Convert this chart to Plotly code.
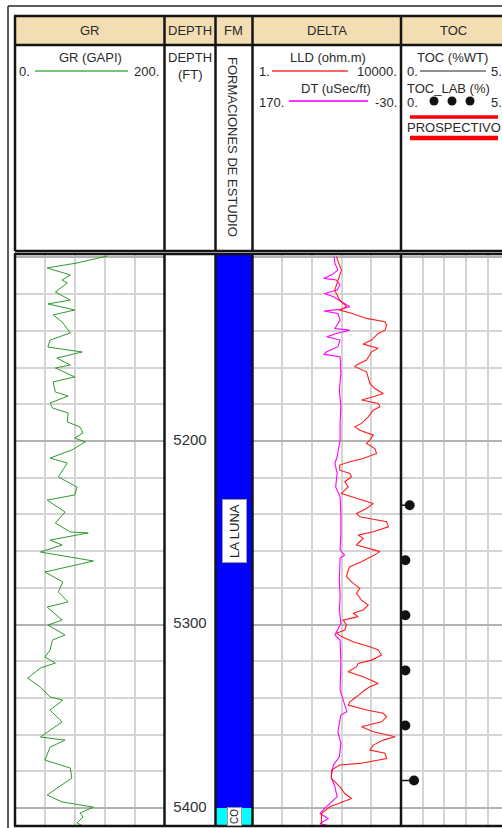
import plotly.graph_objects as go

W, H = 502, 828
FONT = "Liberation Sans, Arial, sans-serif"
INK = "#2a2a2a"

# ---- log curves (depth in ft) ----
gr_depth = [5099.2, 5101.4, 5103.0, 5105.7, 5108.4, 5109.5, 5112.3, 5113.9, 5118.8, 5123.2,
            5125.3, 5128.6, 5131.3, 5135.1, 5141.1, 5145.0, 5148.8, 5151.5, 5154.8, 5158.6,
            5160.2, 5165.1, 5167.8, 5173.3, 5175.5, 5179.3, 5182.0, 5184.7, 5189.6, 5192.4,
            5195.6, 5198.4, 5200.5, 5204.9, 5209.3, 5212.0, 5219.6, 5225.1, 5229.4, 5232.2,
            5238.7, 5244.7, 5249.6, 5250.1, 5254.0, 5256.7, 5260.5, 5265.4, 5271.4, 5276.8,
            5282.3, 5287.7, 5290.5, 5297.6, 5300.3, 5305.7, 5308.5, 5313.9, 5317.7, 5321.0,
            5323.7, 5329.2, 5334.1, 5339.5, 5341.2, 5346.6, 5353.1, 5361.3, 5363.0, 5366.8,
            5373.9, 5378.2, 5383.7, 5392.9, 5396.7, 5399.5, 5402.7, 5404.9, 5408.2, 5409.8]
gr_api = [123.5, 98, 83, 43, 67, 74, 63, 70, 54, 74,
          44, 80, 51, 63, 74, 47, 44, 90, 56, 74,
          54, 80, 51, 54, 71, 47, 50, 71, 70, 87,
          91, 80, 94, 76, 47, 70, 58, 83, 80, 43,
          67, 54, 74, 98, 47, 63, 34, 105, 40, 64,
          58, 71, 43, 63, 44, 67, 50, 47, 40, 54,
          34, 17, 34, 47, 64, 47, 63, 34, 67, 47,
          40, 74, 76, 43, 63, 105, 87, 91, 83, 91]

lld_depth = [5099.6, 5106.9, 5112.3, 5117.8, 5123.2, 5126.8, 5128.7, 5130.1, 5133.2, 5135.0,
             5136.8, 5139.6, 5141.4, 5145.0, 5147.2, 5148.6, 5149.5, 5151.4, 5155.9, 5158.6,
             5159.5, 5162.3, 5165.0, 5168.6, 5171.4, 5174.1, 5175.9, 5177.7, 5179.5, 5181.4,
             5183.2, 5186.8, 5190.4, 5192.3, 5194.1, 5196.8, 5199.5, 5201.3, 5204.1, 5206.8,
             5209.5, 5211.3, 5213.1, 5215.9, 5217.7, 5219.5, 5222.2, 5225.0, 5228.6, 5231.3,
             5234.1, 5236.8, 5239.5, 5241.3, 5244.0, 5246.8, 5249.5, 5251.3, 5253.0, 5256.7,
             5258.5, 5260.3, 5263.0, 5265.8, 5268.5, 5270.3, 5273.9, 5277.6, 5280.3, 5283.0,
             5286.7, 5289.4, 5292.1, 5293.9, 5295.7, 5297.6, 5300.3, 5303.0, 5304.8, 5306.6,
             5309.4, 5312.1, 5313.9, 5316.6, 5319.4, 5321.2, 5323.0, 5325.7, 5328.5, 5331.2,
             5332.1, 5333.9, 5335.7, 5339.4, 5342.1, 5343.9, 5346.6, 5348.4, 5350.3, 5353.0,
             5355.7, 5358.4, 5361.2, 5363.0, 5365.7, 5368.4, 5370.2, 5373.0, 5375.7, 5376.6,
             5379.3, 5383.9, 5388.4, 5392.1, 5394.8, 5396.6, 5399.3, 5403.0, 5406.6, 5409.8]
lld_ohmm = [182, 249, 202, 164, 224, 340, 224, 419, 1180, 3698,
            4102, 3698, 2438, 1611, 959, 1786, 2438, 1611, 1180, 634,
            571, 1180, 1309, 1452, 1982, 3334, 1786, 865, 2438, 2704,
            1786, 1309, 865, 571, 780, 1786, 1452, 1180, 1982, 2198,
            959, 419, 224, 224, 419, 465, 306, 378, 249, 634,
            1786, 1180, 634, 780, 4102, 4550, 1786, 703, 959, 634,
            1309, 2704, 1611, 865, 419, 378, 340, 515, 780, 634,
            865, 1309, 959, 515, 703, 276, 340, 306, 182, 249,
            515, 1452, 2438, 2999, 1611, 703, 634, 378, 959, 1786,
            2438, 1452, 1064, 634, 419, 378, 1180, 3334, 4102, 2999,
            865, 1786, 6887, 3334, 1786, 1452, 3698, 4102, 780, 224,
            134, 134, 224, 306, 465, 276, 121, 72, 72, 72]

dt_depth = [5099.6, 5103.2, 5106.9, 5109.6, 5111.4, 5112.3, 5115.0, 5117.8, 5119.6, 5121.4,
            5124.1, 5125.9, 5126.8, 5128.3, 5129.2, 5130.5, 5134.1, 5138.7, 5139.6, 5141.4,
            5143.2, 5145.0, 5148.6, 5151.4, 5152.8, 5154.1, 5163.2, 5172.3, 5181.4, 5190.4,
            5199.5, 5208.6, 5212.2, 5217.7, 5225.0, 5230.4, 5239.5, 5250.4, 5259.4, 5262.1,
            5263.9, 5275.8, 5284.8, 5292.1, 5299.4, 5305.7, 5308.5, 5321.2, 5335.7, 5347.5,
            5349.3, 5358.4, 5364.8, 5372.1, 5376.6, 5383.0, 5388.4, 5393.9, 5397.5, 5400.2,
            5403.0, 5405.7, 5408.4, 5409.8]
dt_usft = [60, 59, 55, 64, 74, 57, 52, 56, 73, 61,
           50, 43, 39, 52, 74, 55, 52, 59, 39, 57,
           70, 52, 55, 70, 74, 52, 51, 53, 51, 52,
           52, 56, 59, 56, 58, 52, 51, 51, 52, 46,
           52, 53, 52, 53, 51, 59, 52, 51, 52, 43,
           51, 55, 51, 53, 61, 64, 59, 56, 66, 73,
           79, 68, 79, 66]

# core samples
toc_depth = [5235, 5265, 5295, 5325, 5355, 5385]
toc_wt = [0.4, 0.2, 0.2, 0.2, 0.2, 0.6]
toc_lab = [0.4, 0.2, 0.2, 0.2, 0.2, 0.6]

# formation column
fm_names = ["LA LUNA", "COGOLLO"]
fm_top = [5090, 5400]
fm_base = [5400, 5440]
fm_colors = ["#0000ff", "#00ffff"]

depth_labels = [5200, 5300, 5400]
depth_top, depth_base = 5098.1, 5409.8

# ---- page geometry (pixels) ----
edges = [15, 164.5, 215.5, 252.5, 401, 509.5]   # track borders
head_top, tan_bottom, head_bottom = 16, 45, 251
data_top, data_bottom = 254, 826


def px(x):
    return x / W


def py(y):
    return 1 - y / H


def dom(i):
    return [px(edges[i]), min(1.0, px(edges[i + 1]))]


toc_max = 5 * (W - edges[4]) / (edges[5] - edges[4])

GRID = "#d4d4d4"
GRID_MAJOR = "#b2b2b2"

fig = go.Figure()

# GR
fig.add_trace(go.Scatter(x=gr_api, y=gr_depth, mode="lines",
                         line=dict(color="#2e9a2e", width=1), xaxis="x", yaxis="y"))

# depth numbers
fig.add_trace(go.Scatter(x=[0.5] * len(depth_labels), y=depth_labels, mode="text",
                         text=[str(d) for d in depth_labels],
                         textfont=dict(family=FONT, size=15, color="#333333"),
                         xaxis="x2", yaxis="y2", cliponaxis=False))

# formation bands
for top, base, col in zip(fm_top, fm_base, fm_colors):
    fig.add_trace(go.Scatter(x=[0, 1, 1, 0, 0], y=[top, top, base, base, top],
                             mode="lines", fill="toself", fillcolor=col,
                             line=dict(width=0, color=col), xaxis="x3", yaxis="y3"))

# resistivity and sonic
fig.add_trace(go.Scatter(x=lld_ohmm, y=lld_depth, mode="lines",
                         line=dict(color="#ff1e1e", width=1.1), xaxis="x5", yaxis="y4"))
fig.add_trace(go.Scatter(x=dt_usft, y=dt_depth, mode="lines",
                         line=dict(color="#ff00ff", width=1.1), xaxis="x4", yaxis="y4"))

# TOC: log value as a stick from zero, lab value as a dot
seg_x, seg_y = [], []
for d, v in zip(toc_depth, toc_wt):
    seg_x += [0, v, None]
    seg_y += [d, d, None]
fig.add_trace(go.Scatter(x=seg_x, y=seg_y, mode="lines",
                         line=dict(color="#111111", width=1.5), xaxis="x6", yaxis="y6"))
fig.add_trace(go.Scatter(x=toc_lab, y=toc_depth, mode="markers",
                         marker=dict(color="#111111", size=10), xaxis="x6", yaxis="y6"))

# ---- axes ----
hid = dict(showticklabels=False, ticks="", zeroline=False, showline=False, fixedrange=True)
ydom = [py(data_bottom), py(data_top)]
y_major = dict(dtick=100, tick0=5100, showgrid=True, gridcolor=GRID_MAJOR, gridwidth=2,
               minor=dict(dtick=20, tick0=5100, showgrid=True, gridcolor=GRID, gridwidth=1.5))

fig.update_layout(
    xaxis=dict(domain=dom(0), range=[0, 200], dtick=40, tick0=0, showgrid=True,
               gridcolor=GRID, gridwidth=1.5, anchor="y", **hid),
    yaxis=dict(domain=ydom, range=[depth_base, depth_top], anchor="x", **y_major, **hid),
    xaxis2=dict(domain=dom(1), range=[0, 1], showgrid=False, anchor="y2", **hid),
    yaxis2=dict(domain=ydom, matches="y", range=[depth_base, depth_top], showgrid=False,
                anchor="x2", **hid),
    xaxis3=dict(domain=dom(2), range=[0, 1], showgrid=False, anchor="y3", **hid),
    yaxis3=dict(domain=ydom, matches="y", range=[depth_base, depth_top], showgrid=False,
                anchor="x3", **hid),
    xaxis4=dict(domain=dom(3), range=[170, -30], dtick=40, tick0=10, showgrid=True,
                gridcolor=GRID, gridwidth=1.5, anchor="y4", **hid),
    yaxis4=dict(domain=ydom, matches="y", range=[depth_base, depth_top], anchor="x4",
                **y_major, **hid),
    xaxis5=dict(overlaying="x4", type="log", range=[0, 4], showgrid=False, anchor="y4",
                visible=False, fixedrange=True),
    xaxis6=dict(domain=dom(4), range=[0, toc_max], dtick=1, tick0=0, showgrid=True,
                gridcolor=GRID, gridwidth=1.5, anchor="y6", **hid),
    yaxis6=dict(domain=ydom, matches="y", range=[depth_base, depth_top], anchor="x6",
                **y_major, **hid),
)

# ---- header and frame ----
shapes = []
shapes.append(dict(type="rect", xref="paper", yref="paper", x0=px(edges[0]), x1=1,
                   y0=py(tan_bottom), y1=py(head_top), fillcolor="#f3ddb2",
                   line=dict(width=0), layer="below"))


def hline(y, x0, x1, color="#141414", width=2.5):
    shapes.append(dict(type="line", xref="paper", yref="paper", x0=px(x0), x1=px(x1),
                       y0=py(y), y1=py(y), line=dict(color=color, width=width)))


def vline(x, y0, y1, color="#141414", width=2.5):
    shapes.append(dict(type="line", xref="paper", yref="paper", x0=px(x), x1=px(x),
                       y0=py(y0), y1=py(y1), line=dict(color=color, width=width)))


# outer thin frame
vline(8, 6, H, color="#262626", width=1.5)
hline(6, 8, W, color="#262626", width=1.5)
# header block
hline(head_top, edges[0] - 1, W)
hline(tan_bottom, edges[0], W)
hline(head_bottom, edges[0], W)
for e in edges[:5]:
    vline(e, head_top, head_bottom)
# data block
hline(data_top, edges[0] - 1, W)
hline(data_bottom, edges[0] - 1, W)
for e in edges[:5]:
    vline(e, data_top, data_bottom)

# curve legend samples in the header
hline(71, 35, 128, color="#4cae4c", width=1.5)
hline(71, 272, 348, color="#ff3333", width=1.5)
hline(101, 289, 368, color="#ff33ff", width=2)
hline(71, 420, 486, color="#222222", width=1)
for cx in (434, 452, 470):
    shapes.append(dict(type="circle", xref="paper", yref="paper",
                       x0=px(cx - 4.5), x1=px(cx + 4.5), y0=py(101 + 4.5), y1=py(101 - 4.5),
                       fillcolor="#111111", line=dict(width=0)))
hline(117, 410, 498, color="#ff0000", width=3.5)
hline(138, 410, 498, color="#ff0000", width=4.5)

annotations = []


def text(s, x, y, anchor="center", size=13, angle=0):
    annotations.append(dict(text=s, x=px(x), y=py(y), xref="paper", yref="paper",
                            xanchor=anchor, yanchor="middle", showarrow=False,
                            textangle=angle, font=dict(family=FONT, size=size, color=INK)))


track_titles = ["GR", "DEPTH", "FM", "DELTA", "TOC"]
title_x = [90, 190, 233.5, 327, 453]
for t, x in zip(track_titles, title_x):
    text(t, x, 31)

text("GR (GAPI)", 90, 58)
text("0.", 17, 72, "left")
text("200.", 161, 72, "right")
text("DEPTH", 190, 58)
text("(FT)", 190, 75)
text("FORMACIONES DE ESTUDIO", 233, 147, angle=90)
text("LLD (ohm.m)", 328, 58)
text("1.", 257, 72, "left")
text("10000.", 399, 72, "right")
text("DT (uSec/ft)", 336, 88)
text("170.", 257, 102, "left")
text("-30.", 399, 102, "right")
text("TOC (%WT)", 452, 58)
text("0.", 405, 72, "left")
text("5.", 489, 72, "left")
text("TOC_LAB (%)", 405, 88, "left")
text("0.", 405, 102, "left")
text("5.", 489, 102, "left")
text("PROSPECTIVO", 405, 127, "left")

# formation names, fitted to the visible part of each band
px_per_ft = (data_bottom - data_top) / (depth_base - depth_top)
for name, top, base in zip(fm_names, fm_top, fm_base):
    vis_top, vis_base = max(top, depth_top), min(base, depth_base)
    if vis_base <= vis_top:
        continue
    vis_px = (vis_base - vis_top) * px_per_ft
    n = max(1, int(vis_px // 8))
    label = name if len(name) <= n else name[:n]
    size = 13 if vis_px > 60 else 10
    annotations.append(dict(text=label, x=0.5, y=(vis_top + vis_base) / 2,
                            xref="x3", yref="y3", showarrow=False, textangle=-90,
                            font=dict(family=FONT, size=size, color="#222222"),
                            bgcolor="#ffffff", bordercolor="#9a9a9a", borderwidth=1,
                            borderpad=4 if vis_px > 60 else 1))

fig.update_layout(
    width=W, height=H, margin=dict(l=0, r=0, t=0, b=0),
    paper_bgcolor="#ffffff", plot_bgcolor="#ffffff",
    showlegend=False, shapes=shapes, annotations=annotations,
)

fig.write_html("out.html", config={"displayModeBar": False})
